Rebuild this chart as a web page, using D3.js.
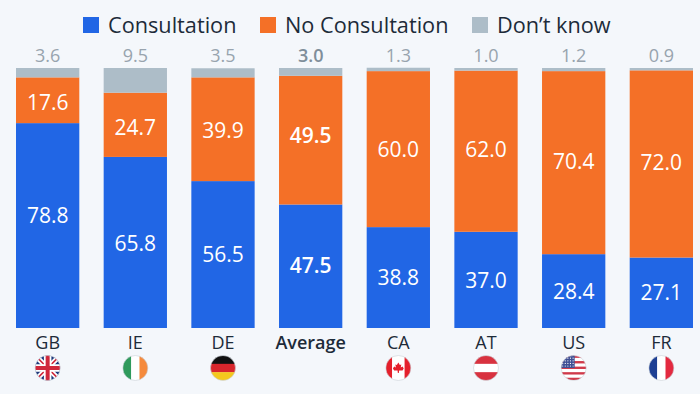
<!DOCTYPE html>
<html>
<head>
<meta charset="utf-8">
<script src="https://cdnjs.cloudflare.com/ajax/libs/d3/7.8.5/d3.min.js"></script>
<style>
html,body{margin:0;padding:0;background:#f4f7fb}
svg{display:block;font-family:"Open Sans",sans-serif}
</style>
</head>
<body>
<svg id="chart" width="700" height="394"></svg>
<script>
var categories = ['GB','IE','DE','Average','CA','AT','US','FR'];
var consultation = [78.8,65.8,56.5,47.5,38.8,37.0,28.4,27.1];
var noConsultation = [17.6,24.7,39.9,49.5,60.0,62.0,70.4,72.0];
var dontKnow = [3.6,9.5,3.5,3.0,1.3,1.0,1.2,0.9];
var seriesNames = ['Consultation','No Consultation','Don\u2019t know'];
var seriesColors = ['#2166e5','#f47027','#adbdc8'];

var svg = d3.select('#chart');
var x = d3.scaleBand().domain(categories).range([16,693]).paddingInner(0.278);
var y = d3.scaleLinear().domain([0,100]).range([328,68]);

var rows = categories.map(function(c,i){
	return {cat:c,consultation:consultation[i],noConsultation:noConsultation[i],dontKnow:dontKnow[i]};
});
var keys = ['consultation','noConsultation','dontKnow'];
var stacked = d3.stack().keys(keys)(rows);

// the original labels don't sit exactly mid bar, px shift per category
var labelShift = {
	consultation:{GB:-10,IE:1.5,Average:-1,AT:1},
	noConsultation:{GB:2,IE:2.5,DE:1.5,Average:-5,AT:-2,US:-1,FR:-1}
};

// bars
svg.selectAll('g.series').data(stacked).enter().append('g')
	.attr('class','series')
	.attr('fill',function(d,i){return seriesColors[i]})
	.selectAll('rect').data(function(d){return d}).enter().append('rect')
	.attr('x',function(d){return x(d.data.cat)})
	.attr('width',x.bandwidth())
	.attr('y',function(d){return y(d[1])})
	.attr('height',function(d){return y(d[0])-y(d[1])});

// labels inside the bars
stacked.slice(0,2).forEach(function(s){
	var shift = labelShift[s.key];
	svg.append('g').selectAll('text').data(s).enter().append('text')
		.attr('x',function(d){return x(d.data.cat)+x.bandwidth()/2})
		.attr('y',function(d){return y((d[0]+d[1])/2)+7.5+(shift[d.data.cat]||0)})
		.attr('text-anchor','middle')
		.attr('fill','#fff')
		.attr('font-size',21)
		.attr('font-weight',function(d){return d.data.cat=='Average'?600:400})
		.text(function(d){return (d[1]-d[0]).toFixed(1)});
});

// don't know values above the bars
svg.append('g').selectAll('text').data(rows).enter().append('text')
	.attr('x',function(d){return x(d.cat)+x.bandwidth()/2})
	.attr('y',61.5)
	.attr('text-anchor','middle')
	.attr('fill',function(d){return d.cat=='Average'?'#7f8e9a':'#98a4ae'})
	.attr('font-size',18)
	.attr('font-weight',function(d){return d.cat=='Average'?600:400})
	.text(function(d){return d.dontKnow.toFixed(1)});

// category axis
var axis = svg.append('g').attr('transform','translate(0,328)')
	.call(d3.axisBottom(x).tickSize(0).tickPadding(7));
axis.select('.domain').remove();
axis.selectAll('text')
	.attr('font-family','"Open Sans",sans-serif')
	.attr('font-size',18)
	.attr('dy','0.8em')
	.attr('fill','#1d2b39')
	.attr('font-weight',function(d){return d=='Average'?600:400});

// legend
var legendX = [83,260,472];
var legend = svg.append('g').selectAll('g').data(seriesNames).enter().append('g')
	.attr('transform',function(d,i){return 'translate('+legendX[i]+',17)'});
legend.append('rect').attr('width',16).attr('height',16)
	.attr('fill',function(d,i){return seriesColors[i]});
legend.append('text').attr('x',25).attr('y',15.5)
	.attr('font-size',21.7)
	.attr('fill','#1d2b39')
	.text(function(d){return d});

// flags
var defs = svg.append('defs');
defs.append('clipPath').attr('id','flagClip').append('circle').attr('r',12.5);

var flagDraw = {
	GB:function(g){
		g.append('rect').attr('x',-13).attr('y',-13).attr('width',26).attr('height',26).attr('fill','#1f3a7d');
		g.append('path').attr('d','M-13,-13L13,13M13,-13L-13,13').attr('stroke','#fff').attr('stroke-width',5);
		g.append('path').attr('d','M-13,-13L13,13M13,-13L-13,13').attr('stroke','#d0283c').attr('stroke-width',1.6);
		g.append('path').attr('d','M0,-13V13M-13,0H13').attr('stroke','#fff').attr('stroke-width',7.5);
		g.append('path').attr('d','M0,-13V13M-13,0H13').attr('stroke','#d0283c').attr('stroke-width',4);
	},
	IE:function(g){
		vbands(g,['#2f9a5c','#fff','#f58a3c'],[1,1,1]);
	},
	DE:function(g){
		hbands(g,['#111','#d8262c','#f4c81e']);
	},
	CA:function(g){
		vbands(g,['#e5202c','#fff','#e5202c'],[1,2,1]);
		g.append('path').attr('d','M0,-5.5L1.5,-3L3,-3.6L2.4,-0.4L4.2,-1.6L5.4,0.6L4.2,2.4L0.8,2.6L0.5,5H-0.5L-0.8,2.6L-4.2,2.4L-5.4,0.6L-4.2,-1.6L-2.4,-0.4L-3,-3.6L-1.5,-3Z').attr('fill','#e5202c');
	},
	AT:function(g){
		hbands(g,['#d8323f','#fff','#d8323f']);
	},
	US:function(g){
		var h = 25/9;
		g.append('rect').attr('x',-13).attr('y',-13).attr('width',26).attr('height',26).attr('fill','#fff');
		d3.range(5).forEach(function(i){
			g.append('rect').attr('x',-13).attr('y',-12.5+i*2*h).attr('width',26).attr('height',h*0.85).attr('fill','#d0394a');
		});
		g.append('rect').attr('x',-13).attr('y',-13).attr('width',14).attr('height',13).attr('fill','#3f4f94');
		d3.range(4).forEach(function(r){
			d3.range(5).forEach(function(c){
				g.append('circle').attr('cx',-11+c*2.6).attr('cy',-9.8+r*2.6).attr('r',0.6).attr('fill','#fff');
			});
		});
	},
	FR:function(g){
		vbands(g,['#1d3f93','#fff','#e3293f'],[1,1,1]);
	}
};
function vbands(g,cols,weights){
	var total = d3.sum(weights), left = -12.5;
	cols.forEach(function(c,i){
		var w = 25*weights[i]/total;
		g.append('rect').attr('x',left).attr('y',-13).attr('width',w+0.2).attr('height',26).attr('fill',c);
		left += w;
	});
}
function hbands(g,cols){
	cols.forEach(function(c,i){
		g.append('rect').attr('x',-13).attr('y',-12.5+i*25/3).attr('width',26).attr('height',25/3+0.2).attr('fill',c);
	});
}

categories.forEach(function(c){
	if(!flagDraw[c]) return;
	var outer = svg.append('g')
		.attr('transform','translate('+(x(c)+x.bandwidth()/2)+',368)');
	var g = outer.append('g').attr('clip-path','url(#flagClip)');
	flagDraw[c](g);
	outer.append('circle').attr('r',12.5).attr('fill','none').attr('stroke','#c9d0d6').attr('stroke-width',0.6);
});
</script>
</body>
</html>
